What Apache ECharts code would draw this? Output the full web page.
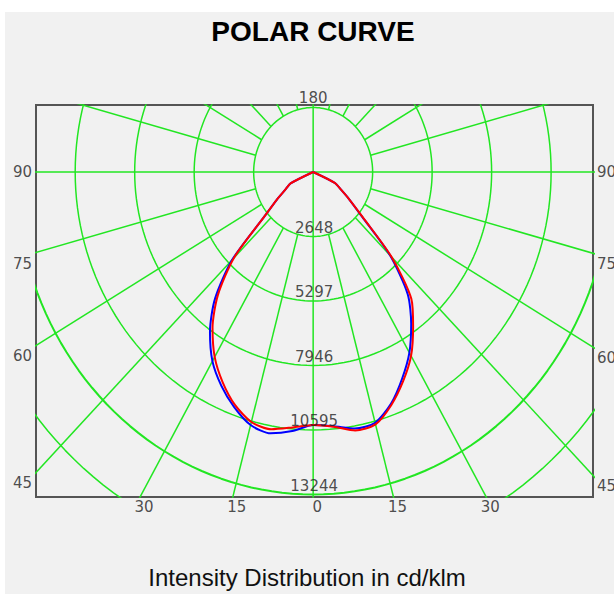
<!DOCTYPE html>
<html>
<head>
<meta charset="utf-8">
<script src="https://cdn.jsdelivr.net/npm/echarts@6/dist/echarts.min.js"></script>
<style>
  html, body { margin: 0; padding: 0; background: #ffffff; }
  #panel { position: absolute; left: 5px; top: 12px; width: 609px; height: 582px; background: #f1f1f1; }
  #chart { position: absolute; left: 0; top: 0; width: 614px; height: 594px; }
</style>
</head>
<body>
<div id="panel"></div>
<div id="chart"></div>
<script>
// ---- data ----
const gamma = [0, 5, 10, 15, 20, 25, 30, 35, 40, 45, 50, 55, 60, 65, 70];
const c0Blue   = [10390, 10480, 10700, 10660, 10130, 9370, 8570, 7610, 6550, 4840, 2820, 1970, 1410, 1060, 0];
const c180Blue = [10390, 10680, 10900, 10760, 10280, 9680, 8970, 8010, 6800, 5100, 2820, 1970, 1410, 1110, 0];
const c90Red   = [10390, 10500, 10780, 10730, 10180, 9480, 8720, 7760, 6800, 4940, 2870, 1970, 1410, 1060, 0];
const c270Red  = [10390, 10530, 10730, 10630, 10180, 9530, 8770, 7810, 6600, 4990, 2820, 1970, 1410, 1110, 0];

const ringRadii  = [2648.8, 5297.6, 7946.4, 10595.2, 13244, 15892.8, 18541.6];
const ringLabels = ['2648', '5297', '7946', '10595', '13244'];
const sideAngles = [90, 75, 60, 45];
const sideLabels = ['90', '75', '60', '45'];
const bottomAngles = [-30, -15, 0, 15, 30];
const bottomLabels = ['30', '15', '0', '15', '30'];
const topLabel = '180';
const spokeStep = 15;

// ---- view extents (value units) ----
const xMin = -12340, xMax = 12460, yMin = -13348, yMax = 2752;
const FAR = 40000;
const rad = d => d * Math.PI / 180;

function planePoints(left, right) {
  const pts = [];
  for (let i = gamma.length - 1; i >= 0; i--) {
    const g = rad(gamma[i]);
    pts.push([-left[i] * Math.sin(g), -left[i] * Math.cos(g)]);
  }
  for (let i = 1; i < gamma.length; i++) {
    const g = rad(gamma[i]);
    pts.push([right[i] * Math.sin(g), -right[i] * Math.cos(g)]);
  }
  return pts;
}

const GREEN = '#22e622';
const series = [];

// rings
ringRadii.forEach((r, k) => {
  const pts = [];
  for (let t = 0; t <= 360; t += 2) pts.push([r * Math.sin(rad(t)), r * Math.cos(rad(t))]);
  series.push({ type: 'line', data: pts, showSymbol: false, silent: true, smooth: false,
    lineStyle: { color: GREEN, width: k === 4 ? 2 : 1.5 }, z: 1 });
});
// spokes
for (let a = 0; a < 360; a += spokeStep) {
  const s = Math.sin(rad(a)), c = Math.cos(rad(a));
  const r0 = (a % 90 === 0) ? 0 : ringRadii[0];
  series.push({ type: 'line', data: [[r0 * s, -r0 * c], [FAR * s, -FAR * c]], showSymbol: false, silent: true,
    lineStyle: { color: GREEN, width: 1.5 }, z: 1 });
}

// curves
series.push({ name: 'C0-C180', type: 'line', data: planePoints(c180Blue, c0Blue), showSymbol: false, smooth: 0.25,
  lineStyle: { color: '#0000ff', width: 2 }, z: 3 });
series.push({ name: 'C90-C270', type: 'line', data: planePoints(c270Red, c90Red), showSymbol: false, smooth: 0.25,
  lineStyle: { color: '#ff0000', width: 2 }, z: 4 });

// labels
const labelFont = { fontFamily: 'DejaVu Sans', fontSize: 15, color: '#222' };
const labelData = [];
ringLabels.forEach((t, i) => labelData.push({ value: [0, -ringRadii[i]], name: t,
  label: Object.assign({ position: 'top', distance: 1, offset: [1, 0] }, labelFont) }));
sideAngles.forEach((g, i) => {
  const yL = g === 90 ? 0 : xMin * Math.cos(rad(g)) / Math.sin(rad(g));
  const yR = g === 90 ? 0 : -xMax * Math.cos(rad(g)) / Math.sin(rad(g));
  const off = g === 90 ? 0 : 11;
  labelData.push({ value: [xMin, yL], name: sideLabels[i],
    label: Object.assign({ position: 'left', distance: 4, offset: [0, off] }, labelFont) });
  labelData.push({ value: [xMax, yR], name: sideLabels[i],
    label: Object.assign({ position: 'right', distance: 4, offset: [0, off] }, labelFont) });
});
bottomAngles.forEach((a, i) => labelData.push({ value: [-yMin * Math.tan(rad(a)), yMin], name: bottomLabels[i],
  label: Object.assign({ position: 'bottom', distance: 2, offset: [4, 0] }, labelFont) }));
labelData.push({ value: [0, yMax], name: topLabel,
  label: Object.assign({ position: 'top', distance: 0, offset: [0, 0] }, labelFont) });

series.push({ type: 'scatter', data: labelData, symbolSize: 0, clip: false, silent: true, z: 5,
  label: { show: true, formatter: '{b}' } });

const chart = echarts.init(document.getElementById('chart'), null, { renderer: 'svg' });
chart.setOption({
  backgroundColor: 'transparent',
  animation: false,
  graphic: [
    { type: 'text', x: 313, y: 31, style: { text: 'POLAR CURVE', textAlign: 'center', textVerticalAlign: 'middle',
      fontFamily: 'Liberation Sans', fontWeight: 'bold', fontSize: 28, fill: '#000' } },
    { type: 'text', x: 307, y: 577, style: { text: 'Intensity Distribution in cd/klm', textAlign: 'center', textVerticalAlign: 'middle',
      fontFamily: 'Liberation Sans', fontSize: 24, fill: '#111' } }
  ],
  grid: { left: 36, top: 105, width: 557, height: 392, show: true, borderColor: '#555', borderWidth: 2, backgroundColor: 'transparent' },
  xAxis: { type: 'value', min: xMin, max: xMax, show: false },
  yAxis: { type: 'value', min: yMin, max: yMax, show: false },
  series: series
});
</script>
</body>
</html>
